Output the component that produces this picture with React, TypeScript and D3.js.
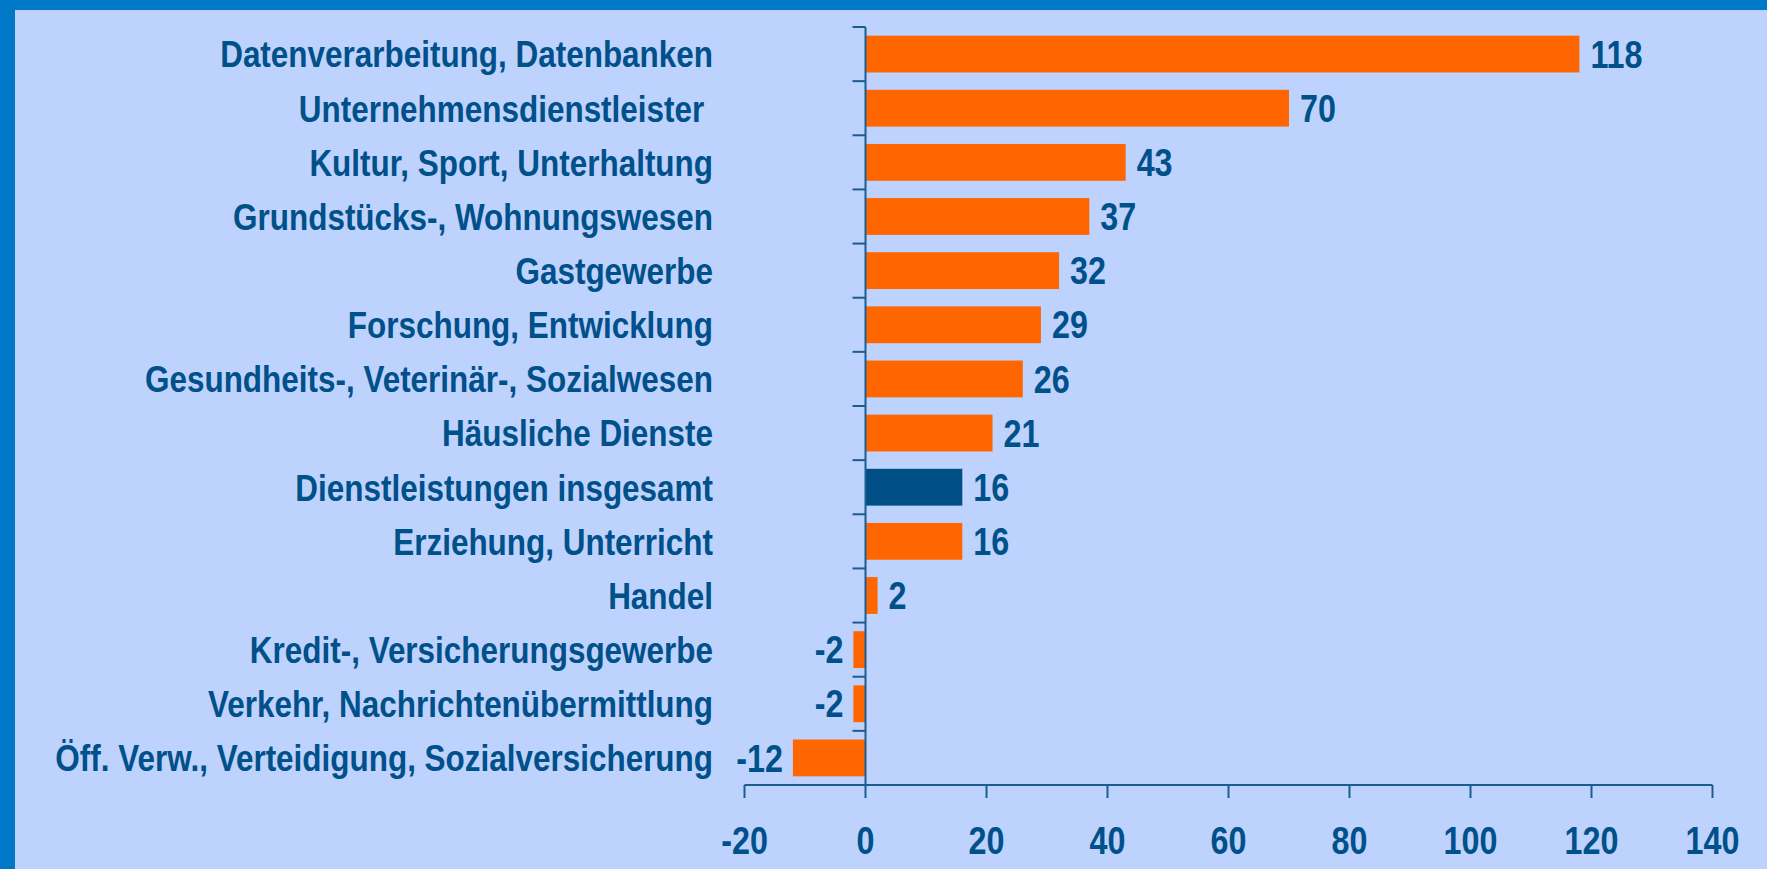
import React, { useEffect, useRef } from "react";
import * as d3 from "d3";

const categories: string[] = [
  "Datenverarbeitung, Datenbanken",
  "Unternehmensdienstleister ",
  "Kultur, Sport, Unterhaltung",
  "Grundstücks-, Wohnungswesen",
  "Gastgewerbe",
  "Forschung, Entwicklung",
  "Gesundheits-, Veterinär-, Sozialwesen",
  "Häusliche Dienste",
  "Dienstleistungen insgesamt",
  "Erziehung, Unterricht",
  "Handel",
  "Kredit-, Versicherungsgewerbe",
  "Verkehr, Nachrichtenübermittlung",
  "Öff. Verw., Verteidigung, Sozialversicherung",
];
const values: number[] = [118, 70, 43, 37, 32, 29, 26, 21, 16, 16, 2, -2, -2, -12];
const highlight: string[] = ["Dienstleistungen insgesamt"];
const xTicks: number[] = [-20, 0, 20, 40, 60, 80, 100, 120, 140];

const W = 1767;
const H = 869;
const BG = "#BED2FE";
const BORDER = "#0078C8";
const TEXT = "#00508A";
const AXIS = "#1D5C8E";
const ORANGE = "#FF6600";
const NAVY = "#004F87";
const FONT = "'Liberation Sans Narrow', 'Arial Narrow', 'Liberation Sans', Arial, sans-serif";

export default function App() {
  const ref = useRef<SVGSVGElement>(null);
  useEffect(() => {
    const svg = d3.select(ref.current);
    svg.selectAll("*").remove();

    svg.append("rect").attr("width", W).attr("height", H).attr("fill", BG);
    svg.append("rect").attr("x", 0).attr("y", 0).attr("width", W).attr("height", 10).attr("fill", BORDER);
    svg.append("rect").attr("x", 0).attr("y", 0).attr("width", 15).attr("height", H).attr("fill", BORDER);

    const x = d3.scaleLinear().domain([-20, 140]).range([744.5, 1712.5]);
    const y = d3.scaleBand<string>().domain(categories).range([27, 785]).paddingInner(0.32).paddingOuter(0.16);
    const step = y.step();
    const y0 = 27;

    // measure condensing factor so the longest label spans the reference width
    const probe = svg
      .append("text")
      .attr("font-family", FONT)
      .attr("font-weight", "bold")
      .attr("font-size", 37)
      .text(categories[categories.length - 1]);
    const natural = (probe.node() as SVGTextElement).getComputedTextLength();
    probe.remove();
    const sx = natural > 0 ? Math.min(1, 658 / natural) : 1;

    // bars
    svg
      .append("g")
      .selectAll("rect")
      .data(values)
      .join("rect")
      .attr("x", (d) => x(Math.min(0, d)))
      .attr("width", (d) => Math.abs(x(d) - x(0)))
      .attr("y", (_, i) => y(categories[i])!)
      .attr("height", y.bandwidth())
      .attr("fill", (_, i) => (highlight.includes(categories[i]) ? NAVY : ORANGE));

    // value labels
    svg
      .append("g")
      .selectAll("text")
      .data(values)
      .join("text")
      .attr(
        "transform",
        (d, i) =>
          `translate(${d >= 0 ? x(d) + 11 : x(d) - 10},${y(categories[i])! + y.bandwidth() / 2 + 38 * 0.36}) scale(${sx},1)`
      )
      .attr("text-anchor", (d) => (d >= 0 ? "start" : "end"))
      .attr("font-family", FONT)
      .attr("font-weight", "bold")
      .attr("font-size", 38)
      .attr("fill", TEXT)
      .text((d) => String(d));

    // category labels
    svg
      .append("g")
      .selectAll("text")
      .data(categories)
      .join("text")
      .attr("transform", (d) => `translate(713,${y(d)! + y.bandwidth() / 2 + 37 * 0.36}) scale(${sx},1)`)
      .attr("text-anchor", "end")
      .attr("font-family", FONT)
      .attr("font-weight", "bold")
      .attr("font-size", 37)
      .attr("fill", TEXT)
      .style("white-space", "pre")
      .text((d) => d);

    // y axis
    const zeroX = x(0);
    const ax = svg.append("g").attr("stroke", AXIS).attr("stroke-width", 2).attr("fill", "none");
    ax.append("line").attr("x1", zeroX).attr("x2", zeroX).attr("y1", y0).attr("y2", 785);
    d3.range(categories.length + 1).forEach((i) => {
      const yy = y0 + i * step;
      ax.append("line").attr("x1", zeroX - 13).attr("x2", zeroX).attr("y1", yy).attr("y2", yy);
    });

    // x axis
    ax.append("line").attr("x1", x(-20)).attr("x2", x(140)).attr("y1", 785).attr("y2", 785);
    xTicks.forEach((t) => {
      ax.append("line").attr("x1", x(t)).attr("x2", x(t)).attr("y1", 785).attr("y2", 798);
    });
    svg
      .append("g")
      .selectAll("text")
      .data(xTicks)
      .join("text")
      .attr("transform", (d) => `translate(${x(d)},854) scale(${sx},1)`)
      .attr("text-anchor", "middle")
      .attr("font-family", FONT)
      .attr("font-weight", "bold")
      .attr("font-size", 38)
      .attr("fill", TEXT)
      .text((d) => String(d));
  }, []);

  return (
    <svg
      ref={ref}
      width={W}
      height={H}
      style={{ position: "absolute", left: 0, top: 0, display: "block" }}
    />
  );
}
